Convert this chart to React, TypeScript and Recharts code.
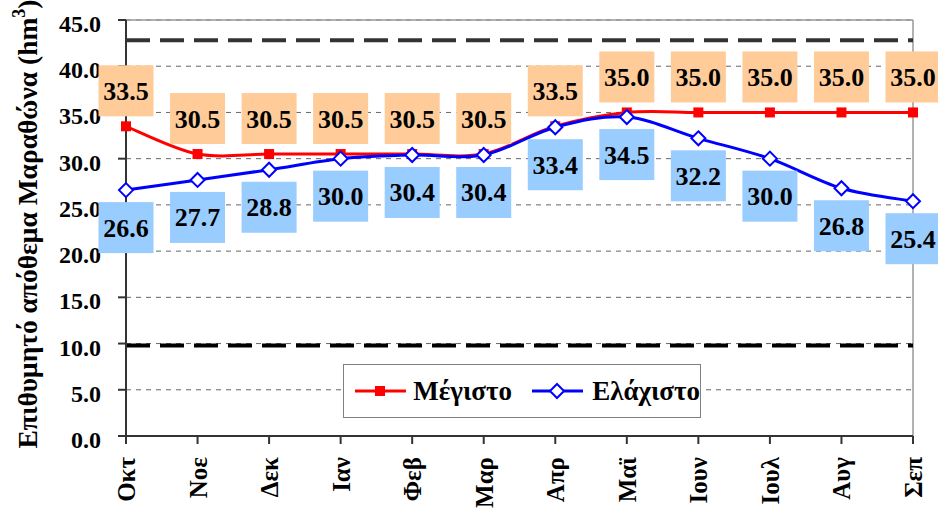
import React from "react";
import {
  LineChart,
  Line,
  XAxis,
  YAxis,
  CartesianGrid,
  ReferenceLine,
  LabelList,
  Legend,
} from "recharts";

const months = ["Οκτ", "Νοε", "Δεκ", "Ιαν", "Φεβ", "Μαρ", "Απρ", "Μαϊ", "Ιουν", "Ιουλ", "Αυγ", "Σεπ"];
const maxValues = [33.5, 30.5, 30.5, 30.5, 30.5, 30.5, 33.5, 35.0, 35.0, 35.0, 35.0, 35.0];
const minValues = [26.6, 27.7, 28.8, 30.0, 30.4, 30.4, 33.4, 34.5, 32.2, 30.0, 26.8, 25.4];
const yTicks = [0, 5, 10, 15, 20, 25, 30, 35, 40, 45];
const upperLimit = 42.8;
const lowerLimit = 9.8;

const data = months.map((m, i) => ({ m, max: maxValues[i], min: minValues[i] }));

const FONT = "Liberation Serif";

// Excel-like smoothed line (Catmull-Rom through the points)
function smoothCurve(context: any) {
  let pts: number[][] = [];
  return {
    areaStart() {},
    areaEnd() {},
    lineStart() {
      pts = [];
    },
    point(x: number, y: number) {
      pts.push([+x, +y]);
    },
    lineEnd() {
      if (!pts.length) return;
      context.moveTo(pts[0][0], pts[0][1]);
      for (let i = 0; i < pts.length - 1; i++) {
        const p0 = pts[i - 1] || pts[i];
        const p1 = pts[i];
        const p2 = pts[i + 1];
        const p3 = pts[i + 2] || p2;
        context.bezierCurveTo(
          p1[0] + (p2[0] - p0[0]) / 6,
          p1[1] + (p2[1] - p0[1]) / 6,
          p2[0] - (p3[0] - p1[0]) / 6,
          p2[1] - (p3[1] - p1[1]) / 6,
          p2[0],
          p2[1]
        );
      }
    },
  };
}

const SquareDot = (props: any) => {
  const { cx, cy, index } = props;
  return <rect key={`sq-${index}`} x={cx - 5} y={cy - 5} width={10} height={10} fill="#FF0000" />;
};

const DiamondDot = (props: any) => {
  const { cx, cy, index } = props;
  return (
    <path
      key={`di-${index}`}
      d={`M${cx},${cy - 7}L${cx + 7},${cy}L${cx},${cy + 7}L${cx - 7},${cy}Z`}
      fill="#FFFFFF"
      stroke="#0000FF"
      strokeWidth={2}
    />
  );
};

const boxLabel = (fill: string, above: boolean) => (props: any) => {
  const { x, y, value, index } = props;
  const w = 55;
  const h = 51;
  const top = above ? y - 10 - h : y + 12;
  return (
    <g key={`lb-${fill}-${index}`}>
      <rect x={x - w / 2} y={top} width={w} height={h} fill={fill} />
      <text
        x={x}
        y={top + h / 2 + 9}
        textAnchor="middle"
        style={{ fontFamily: FONT, fontWeight: "bold", fontSize: 26 }}
        fill="#000"
      >
        {Number(value).toFixed(1)}
      </text>
    </g>
  );
};

const XTick = (props: any) => {
  const { x, y, payload } = props;
  return (
    <text
      x={x + 9}
      y={y + 11}
      transform={`rotate(-90, ${x + 9}, ${y + 11})`}
      textAnchor="end"
      style={{ fontFamily: FONT, fontWeight: "bold", fontSize: 25 }}
      fill="#000"
    >
      {payload.value}
    </text>
  );
};

const YTick = (props: any) => {
  const { x, y, payload } = props;
  return (
    <text
      x={x}
      y={y + 12}
      textAnchor="end"
      style={{ fontFamily: FONT, fontWeight: "bold", fontSize: 24 }}
      fill="#000"
    >
      {Number(payload.value).toFixed(1)}
    </text>
  );
};

const YTitle = () => (
  <text
    x={37}
    y={224}
    transform="rotate(-90, 37, 224)"
    textAnchor="middle"
    style={{ fontFamily: FONT, fontWeight: "bold", fontSize: 27.5 }}
    fill="#000"
  >
    Επιθυμητό απόθεμα Μαραθώνα (hm<tspan dy={-12} fontSize={18}>3</tspan>
    <tspan dy={12}>)</tspan>
  </text>
);

const LegendBox = () => (
  <div
    style={{
      width: 358,
      height: 54,
      boxSizing: "border-box",
      border: "1px solid #808080",
      background: "#fff",
      display: "flex",
      alignItems: "center",
      fontFamily: FONT,
      fontWeight: "bold",
      fontSize: 27,
      color: "#000",
    }}
  >
    <svg width={68} height={20} style={{ marginLeft: 5 }}>
      <line x1={6} y1={10} x2={57} y2={10} stroke="#FF0000" strokeWidth={3} />
      <rect x={26} y={5} width={10} height={10} fill="#FF0000" />
    </svg>
    <span>Μέγιστο</span>
    <svg width={70} height={20} style={{ marginLeft: 14 }}>
      <line x1={6} y1={10} x2={57} y2={10} stroke="#0000FF" strokeWidth={3} />
      <path d="M31,3L38,10L31,17L24,10Z" fill="#fff" stroke="#0000FF" strokeWidth={2} />
    </svg>
    <span>Ελάχιστο</span>
  </div>
);

export default function App() {
  return (
    <div style={{ position: "absolute", left: 0, top: 0, width: 938, height: 508, background: "#fff" }}>
      <LineChart width={938} height={508} data={data} margin={{ top: 20, right: 25, bottom: 0, left: 60 }}>
        <CartesianGrid vertical={false} stroke="#666" strokeDasharray="5 5" />
        <XAxis
          dataKey="m"
          scale="point"
          padding={{ left: 0, right: 0 }}
          interval={0}
          height={72}
          tickSize={8}
          tick={<XTick />}
          axisLine={{ stroke: "#333", strokeWidth: 2 }}
          tickLine={{ stroke: "#333", strokeWidth: 2 }}
        />
        <YAxis
          domain={[0, 45]}
          ticks={yTicks}
          width={66}
          tickSize={8}
          tickMargin={17}
          tick={<YTick />}
          axisLine={{ stroke: "#333", strokeWidth: 2 }}
          tickLine={{ stroke: "#333", strokeWidth: 2 }}
          label={<YTitle />}
        />
        <ReferenceLine y={45} stroke="#999" strokeWidth={1.5} />
        <ReferenceLine x="Σεπ" stroke="#999" strokeWidth={1.5} />
        <ReferenceLine y={upperLimit} stroke="#333" strokeWidth={4} strokeDasharray="24 10" />
        <ReferenceLine y={lowerLimit} stroke="#000" strokeWidth={4} strokeDasharray="24 10" />
        <Legend
          layout="horizontal"
          verticalAlign="middle"
          align="center"
          content={<LegendBox />}
          wrapperStyle={{ position: "absolute", left: 343, top: 364, width: 358, height: 54 }}
        />
        <Line
          dataKey="max"
          type={smoothCurve as any}
          stroke="#FF0000"
          strokeWidth={3}
          dot={<SquareDot />}
          activeDot={false}
          isAnimationActive={false}
        >
          <LabelList dataKey="max" content={boxLabel("#FFCC99", true)} />
        </Line>
        <Line
          dataKey="min"
          type={smoothCurve as any}
          stroke="#0000FF"
          strokeWidth={3}
          dot={<DiamondDot />}
          activeDot={false}
          isAnimationActive={false}
        >
          <LabelList dataKey="min" content={boxLabel("#99CCFF", false)} />
        </Line>
      </LineChart>
    </div>
  );
}
